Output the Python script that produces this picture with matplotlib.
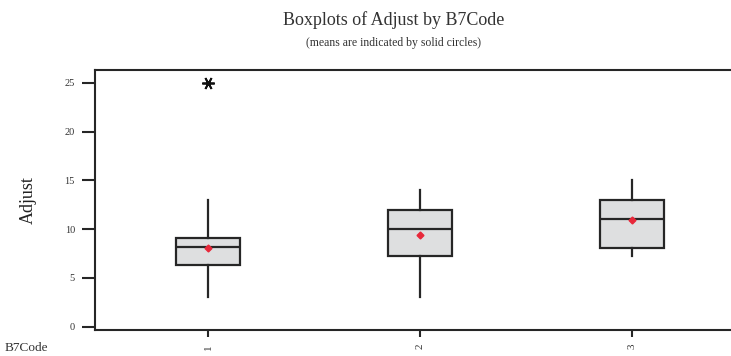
import matplotlib
matplotlib.use("Agg")
import matplotlib.pyplot as plt

# Box statistics
codes = ['1', '2', '3']
q1 = [6.3, 7.2, 8.1]
medians = [8.2, 10.0, 11.0]
q3 = [9.1, 12.0, 13.0]
whis_lo = [3.0, 3.0, 7.2]
whis_hi = [13.0, 14.0, 15.0]
means = [8.1, 9.4, 10.9]
outliers = [[25.0], [], []]
yticks = [0, 5, 10, 15, 20, 25]

plt.rcParams['font.family'] = ['Liberation Serif', 'DejaVu Serif']

stats = []
for i in range(len(codes)):
    stats.append({
        'label': codes[i], 'q1': q1[i], 'med': medians[i], 'q3': q3[i],
        'whislo': whis_lo[i], 'whishi': whis_hi[i], 'mean': means[i],
        'fliers': outliers[i],
    })

fig = plt.figure(figsize=(7.31, 3.56), dpi=100)
ax = fig.add_axes([0.130, 0.073, 0.870, 0.730])

pos = list(range(1, len(codes) + 1))
ax.bxp(stats, positions=pos, widths=0.30, patch_artist=True,
       showmeans=True, showcaps=False,
       boxprops=dict(facecolor='#dedfe0', edgecolor='#262626', linewidth=1.6),
       medianprops=dict(color='#262626', linewidth=1.6),
       whiskerprops=dict(color='#262626', linewidth=1.6),
       meanprops=dict(marker='D', markerfacecolor='#e8283a', markeredgecolor='#e8283a',
                      markersize=3.5),
       flierprops=dict(marker=(6, 2, 90), markeredgecolor='#111111', markersize=9,
                       markeredgewidth=1.3))

ax.set_xlim(0.467, 3.467)
ax.set_ylim(-0.35, 26.3)
ax.set_yticks(yticks)
ax.set_yticklabels([str(t) for t in yticks], fontsize=7.5, color='#333333')
ax.set_xticks(pos)
ax.set_xticklabels(codes, rotation=90, fontsize=8, color='#333333')
ax.tick_params(axis='y', length=9.5, width=1.5, pad=5, color='#262626')
ax.tick_params(axis='x', length=5, width=1.5, pad=5, color='#262626')

ax.spines['right'].set_visible(False)
for s in ['left', 'top', 'bottom']:
    ax.spines[s].set_linewidth(1.5)
    ax.spines[s].set_color('#262626')

ax.set_ylabel('Adjust', fontsize=13, labelpad=20, color='#222222')

fig.text(0.538, 0.945, 'Boxplots of Adjust by B7Code', ha='center', va='center',
         fontsize=13, color='#333333')
fig.text(0.538, 0.878, '(means are indicated by solid circles)', ha='center', va='center',
         fontsize=8.5, color='#333333')
fig.text(0.006, 0.022, 'B7Code', ha='left', va='center', fontsize=9.5, color='#333333')

fig.savefig('out.png', dpi=100)
